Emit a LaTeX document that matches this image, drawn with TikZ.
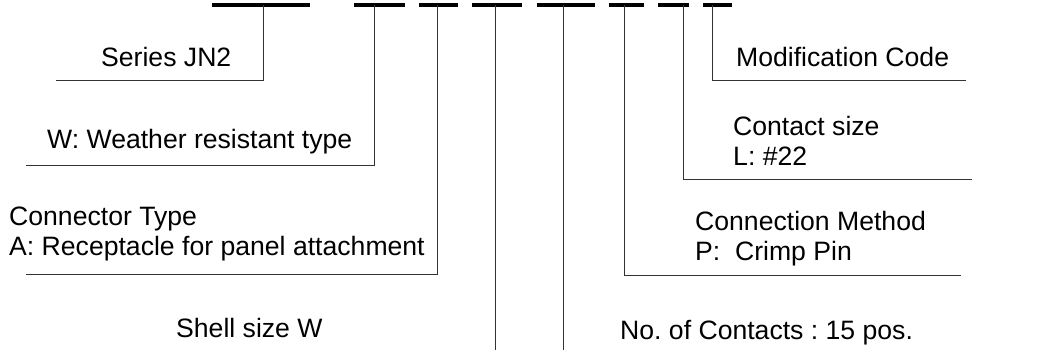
\documentclass[tikz,border=0pt]{standalone}
\usepackage{fontspec}
\setmainfont{Liberation Sans}
\frenchspacing
\begin{document}
\begin{tikzpicture}[x=1pt,y=-1pt,
  bar/.style={line width=3.5pt},
  lead/.style={line width=1pt, draw=black!80},
  lbl/.style={anchor=base west, inner sep=0pt, align=left, font=\fontsize{26.6}{30}\selectfont}]
\useasboundingbox (0,0) rectangle (1038,350);
% bars
\coordinate (b1a) at (212,5); \coordinate (b1b) at (310,5);
\coordinate (b2a) at (354,5); \coordinate (b2b) at (405,5);
\coordinate (b3a) at (419,5); \coordinate (b3b) at (458,5);
\coordinate (b4a) at (472,5); \coordinate (b4b) at (522,5);
\coordinate (b5a) at (537,5); \coordinate (b5b) at (595,5);
\coordinate (b6a) at (609,5); \coordinate (b6b) at (644,5);
\coordinate (b7a) at (658,5); \coordinate (b7b) at (689,5);
\coordinate (b8a) at (703,5); \coordinate (b8b) at (732,5);
\foreach \i in {1,...,8} {\draw[bar] (b\i a) -- (b\i b);}
% leader points
\coordinate (t1) at (263,5); \coordinate (c1) at (263,81); \coordinate (e1) at (56,81);
\coordinate (t2) at (374,5); \coordinate (c2) at (374,165); \coordinate (e2) at (26,165);
\coordinate (t3) at (437,5); \coordinate (c3) at (437,274); \coordinate (e3) at (26,274);
\coordinate (t4) at (495,5); \coordinate (e4) at (495,350);
\coordinate (t5) at (563,5); \coordinate (e5) at (563,350);
\coordinate (t6) at (624,5); \coordinate (c6) at (624,275); \coordinate (e6) at (961,275);
\coordinate (t7) at (683,5); \coordinate (c7) at (683,179); \coordinate (e7) at (972,179);
\coordinate (t8) at (712,5); \coordinate (c8) at (712,81); \coordinate (e8) at (966,81);
\draw[lead] (t1) -- (c1) -- (e1);
\draw[lead] (t2) -- (c2) -- (e2);
\draw[lead] (t3) -- (c3) -- (e3);
\draw[lead] (t4) -- (e4);
\draw[lead] (t5) -- (e5);
\draw[lead] (t6) -- (c6) -- (e6);
\draw[lead] (t7) -- (c7) -- (e7);
\draw[lead] (t8) -- (c8) -- (e8);
% labels
\node[lbl] (series) at (101,67) {Series JN2};
\node[lbl] (mod) at (736,67) {Modification Code};
\node[lbl] (wr) at (47,149) {W: Weather resistant type};
\node[lbl] (cs) at (733,165) {Contact size\\L: \#22};
\node[lbl] (ct) at (9,255) {Connector Type\\A: Receptacle for panel attachment};
\node[lbl] (cm) at (695,260) {Connection Method\\P:\ \ Crimp Pin};
\node[lbl] (sh) at (176,337) {Shell size W};
\node[lbl] (nc) at (620,339) {No. of Contacts : 15 pos.};
\end{tikzpicture}
\end{document}
